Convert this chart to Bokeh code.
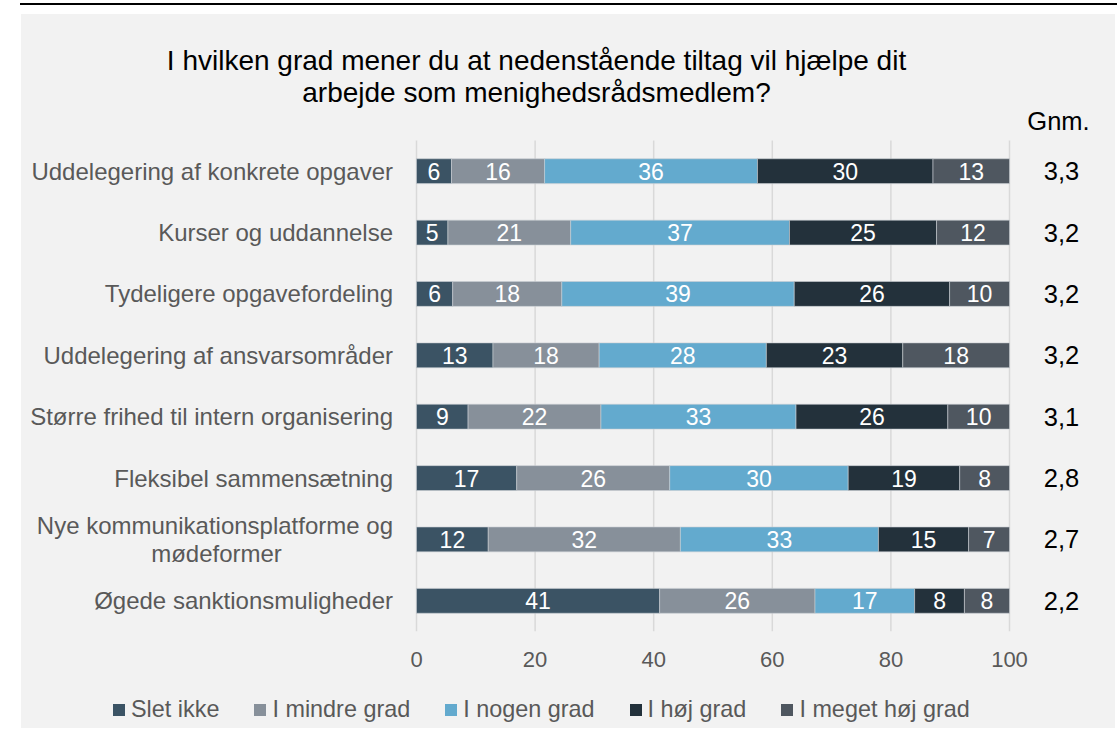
from bokeh.plotting import figure
from bokeh.models import ColumnDataSource, Range1d, Legend, LegendItem, Div, FixedTicker
from bokeh.layouts import column
from bokeh.embed import file_html
from bokeh.resources import INLINE
from bokeh.core.properties import value

# ---------------- data ----------------
categories = [
    "Uddelegering af konkrete opgaver",
    "Kurser og uddannelse",
    "Tydeligere opgavefordeling",
    "Uddelegering af ansvarsområder",
    "Større frihed til intern organisering",
    "Fleksibel sammensætning",
    "Nye kommunikationsplatforme og mødeformer",
    "Øgede sanktionsmuligheder",
]
series_names = ["Slet ikke", "I mindre grad", "I nogen grad", "I høj grad", "I meget høj grad"]
slet_ikke = [5.9, 5.3, 6.1, 12.9, 8.7, 16.9, 12.1, 41.0]
mindre_grad = [15.7, 20.7, 18.4, 17.9, 22.4, 25.8, 32.4, 26.2]
nogen_grad = [35.9, 36.9, 39.2, 28.2, 32.9, 30.1, 33.4, 16.8]
hoej_grad = [29.6, 24.8, 26.2, 23.0, 25.6, 18.8, 15.2, 8.4]
meget_hoej_grad = [12.9, 12.3, 10.1, 18.0, 10.4, 8.4, 6.9, 7.6]
gnm = [3.3, 3.2, 3.2, 3.2, 3.1, 2.8, 2.7, 2.2]
x_ticks = [0, 20, 40, 60, 80, 100]
title_lines = ["I hvilken grad mener du at nedenstående tiltag vil hjælpe dit",
               "arbejde som menighedsrådsmedlem?"]
wrapped_index = 6
wrapped_label = ["Nye kommunikationsplatforme og", "mødeformer"]
gnm_header = "Gnm."

colors = ["#3b5364", "#87909a", "#63aace", "#23313b", "#4f5760"]
FONT = "Liberation Sans"
GRAY_TXT = "#595959"
BG = "#f2f2f2"
BAR_LINE = "#c9ced3"

series_values = [slet_ikke, mindre_grad, nogen_grad, hoej_grad, meget_hoej_grad]
n_cat = len(categories)
ypos = [n_cat - 0.5 - i for i in range(n_cat)]

# ---------------- layout geometry (pixels) ----------------
W, H = 1094, 676
BOTTOM = 59                    # space for x axis
FRAME_H = H - BOTTOM           # 617
BARS_LEFT, BARS_W = 395, 593   # pixel span of 0..100
BARS_TOP = 126                 # pixel top of bar area
BARS_H = FRAME_H - BARS_TOP    # 491
LEG_H = 38

x_range = Range1d(-100 * BARS_LEFT / BARS_W, 100 * (W - BARS_LEFT) / BARS_W)
y_range = Range1d(0, n_cat * FRAME_H / BARS_H)

p = figure(width=W, height=H, output_backend="svg", toolbar_location=None,
           x_range=x_range, y_range=y_range, y_axis_location=None,
           min_border=0, min_border_bottom=BOTTOM,
           background_fill_color=BG, border_fill_color=BG, outline_line_color=None,
           margin=(9, 0, 0, 21), styles={"background-color": BG})
p.grid.visible = False

# vertical gridlines over the bar area only
p.segment(x0=x_ticks, y0=[0] * len(x_ticks), x1=x_ticks, y1=[n_cat] * len(x_ticks),
          line_color="#d9d9d9", line_width=1.5)

renderers = []
left = [0.0] * n_cat
for name, vals, col in zip(series_names, series_values, colors):
    right = [l + v for l, v in zip(left, vals)]
    src = ColumnDataSource(dict(
        y=ypos, left=left, right=right,
        mid=[(l + r) / 2 for l, r in zip(left, right)],
        lab=[str(int(v + 0.5)) for v in vals],
    ))
    renderers.append(p.hbar(y="y", left="left", right="right", height=0.405, source=src,
                            fill_color=col, line_color=BAR_LINE, line_width=0.6))
    p.text(x="mid", y="y", text="lab", source=src, text_color="white",
           text_font=value(FONT), text_font_size="23px", text_align="center",
           text_baseline="middle")
    left = right

# category labels
cat_src = ColumnDataSource(dict(
    x=[0] * (n_cat - 1),
    y=[y for i, y in enumerate(ypos) if i != wrapped_index],
    t=[c for i, c in enumerate(categories) if i != wrapped_index]))
p.text(x="x", y="y", text="t", source=cat_src, x_offset=-23.5, text_align="right",
       text_baseline="middle", text_font=value(FONT), text_font_size="24px",
       text_color=GRAY_TXT)
p.text(x=[0], y=[ypos[wrapped_index]], text=[wrapped_label[0]], x_offset=-23.5, y_offset=-14,
       text_align="right", text_baseline="middle", text_font=value(FONT),
       text_font_size="24px", text_color=GRAY_TXT)
p.text(x=[0], y=[ypos[wrapped_index]], text=[wrapped_label[1]], x_offset=-200, y_offset=14,
       text_align="center", text_baseline="middle", text_font=value(FONT),
       text_font_size="24px", text_color=GRAY_TXT)

# title
p.text(x=[0, 0], y=[n_cat, n_cat], text=title_lines, x_offset=120, y_offset=[-80, -48],
       text_align="center", text_baseline="middle", text_font=value(FONT),
       text_font_size="28px", text_color="black")

# Gnm column
p.text(x=[100], y=[n_cat], text=[gnm_header], x_offset=49, y_offset=-20,
       text_align="center", text_baseline="middle", text_font=value(FONT),
       text_font_size="25.5px", text_color="black")
gsrc = ColumnDataSource(dict(y=ypos, x=[100] * n_cat,
                             t=[f"{g:.1f}".replace(".", ",") for g in gnm]))
p.text(x="x", y="y", text="t", source=gsrc, x_offset=52, text_align="center",
       text_baseline="middle", text_font=value(FONT), text_font_size="25.5px",
       text_color="black")

# x axis
p.xaxis.ticker = FixedTicker(ticks=x_ticks)
p.xaxis.axis_line_color = None
p.xaxis.major_tick_line_color = None
p.xaxis.minor_tick_line_color = None
p.xaxis.major_tick_out = 0
p.xaxis.major_label_text_font = FONT
p.xaxis.major_label_text_font_size = "22px"
p.xaxis.major_label_text_color = GRAY_TXT
p.xaxis.major_label_standoff = 20

# ---------------- legend strip ----------------
q = figure(width=W, height=LEG_H, output_backend="svg", toolbar_location=None,
           x_range=(0, 1), y_range=(0, 1), x_axis_location=None, y_axis_location=None,
           min_border=0, background_fill_color=BG, border_fill_color=BG,
           outline_line_color=None, margin=(0, 0, 0, 21), styles={"background-color": BG})
q.grid.visible = False
# proxy renderers (placed outside the visible range) that carry the legend swatches
leg_renderers = []
for col in colors:
    leg_renderers.append(q.hbar(y=[-5], left=[0], right=[1], height=0.4,
                                fill_color=col, line_color=None))
legend = Legend(items=[LegendItem(label=n, renderers=[r]) for n, r in zip(series_names, leg_renderers)],
                orientation="horizontal", location=(90, 5),
                glyph_width=15, glyph_height=15, label_standoff=5, spacing=33,
                padding=0, margin=0, border_line_color=None, background_fill_alpha=0,
                label_text_font=FONT, label_text_font_size="23.4px", label_text_color=GRAY_TXT)
q.add_layout(legend)

line = Div(text="", width=1097, height=2, margin=(3, 0, 0, 20),
           styles={"background-color": "black"})
layout = column(line, p, q, spacing=0)

open("out.html", "w").write(file_html(layout, INLINE))
